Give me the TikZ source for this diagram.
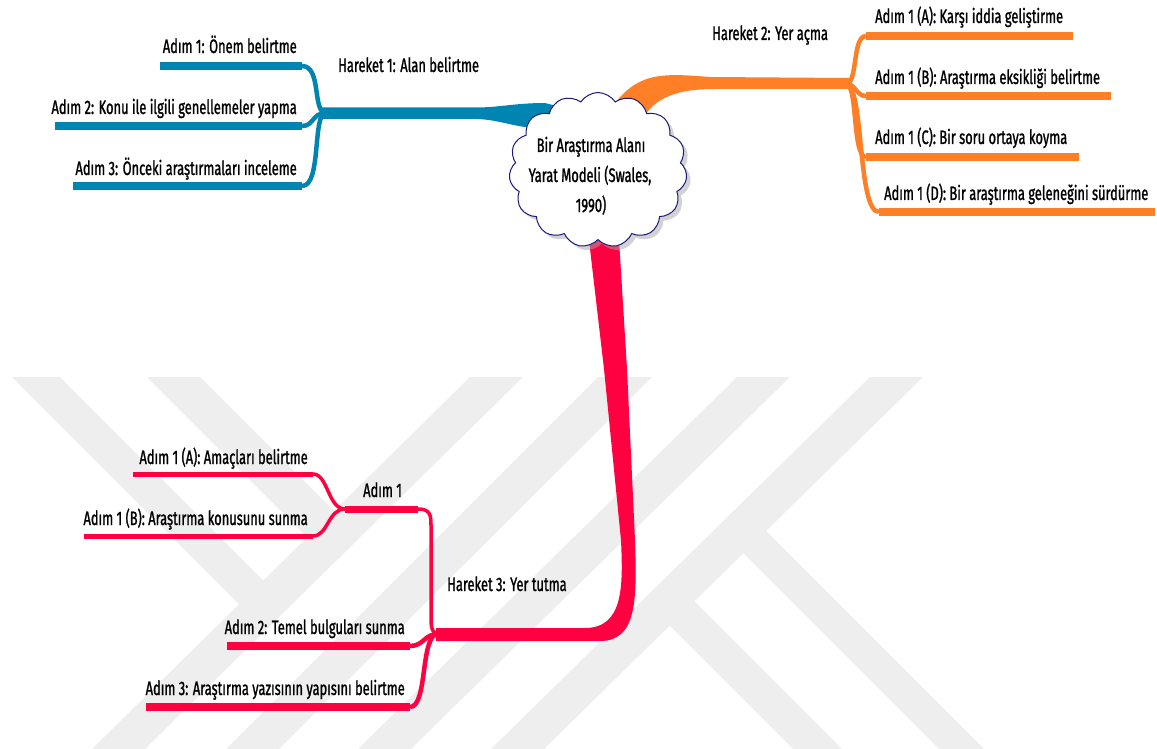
\documentclass[tikz,border=0pt]{standalone}
\usepackage{fontspec}
\setmainfont{Fira Sans}[FakeStretch=0.66, FakeBold=1.2]
\usetikzlibrary{shapes.symbols,shadows}
\definecolor{brBlue}{RGB}{0,133,178}
\definecolor{brOrange}{RGB}{255,127,39}
\definecolor{brRed}{RGB}{255,0,64}
\definecolor{wmGray}{RGB}{238,238,238}
\definecolor{cloudEdge}{RGB}{25,25,120}
\newcommand\lblfont{\fontsize{19.5}{23}\selectfont}
\begin{document}
\begin{tikzpicture}[x=1pt,y=-1pt,
  lbl/.style={font=\lblfont, inner sep=0pt, text=black},
  twig/.style={line width=8pt},
  twigfine/.style={line width=5pt},
  curvy/.style={line width=4.5pt},
  stemline/.style={line width=3.5pt}]
\useasboundingbox (0,0) rectangle (1157,749);

% ---------- background emblem ----------
\begin{scope}
  \clip (0,377) rectangle (1157,749);
  \fill[wmGray] (470,377) -- (523,377) -- (145,749) -- (92,749) -- cycle;
  \fill[wmGray] (12,377) -- (60,377) -- (289,606) -- (265,630) -- cycle;
  \fill[wmGray] (147,377) -- (200,377) -- (360,537) -- (333,563) -- cycle;
  \fill[wmGray] (598,377) -- (652,377) -- (279,749) -- (226,749) -- cycle;
  \fill[wmGray] (737,377) -- (790,377) -- (411,749) -- (358,749) -- cycle;
  \fill[wmGray] (870,377) -- (923,377) -- (544,749) -- (491,749) -- cycle;
  \fill[wmGray] (750,515) -- (984,749) -- (939,749) -- (725,535) -- cycle;
  \fill[wmGray] (680,587) -- (842,749) -- (793,749) -- (655,611) -- cycle;
\end{scope}

% ---------- Hareket 1 (blue) ----------
\coordinate (bJ) at (326,113);
\coordinate (b1o) at (160,66);  \coordinate (b1i) at (302,66);
\coordinate (b2o) at (55,126);  \coordinate (b2i) at (302,126);
\coordinate (b3o) at (73,186);  \coordinate (b3i) at (302,186);
\fill[brBlue] (322,107.5) -- (475,107.5) .. controls (500,107.5) and (515,103) .. (545,103)
  -- (580,112) -- (580,131) -- (545,129) .. controls (515,128) and (498,119) .. (475,119)
  -- (322,119) -- cycle;
\draw[brBlue, twig] (b1o) -- (b1i);
\draw[brBlue, twig] (b2o) -- (b2i);
\draw[brBlue, twig] (b3o) -- (b3i);
\draw[brBlue, curvy] (b1i) .. controls +(20,0) and +(-14,0) .. (bJ);
\draw[brBlue, curvy] (b2i) .. controls +(12,0) and +(-14,0) .. (bJ);
\draw[brBlue, curvy] (b3i) .. controls +(20,0) and +(-14,0) .. (bJ);

% ---------- Hareket 2 (orange) ----------
\coordinate (oJ) at (846,84);
\coordinate (o1i) at (866,36);  \coordinate (o1o) at (1073,36);
\coordinate (o2i) at (866,96);  \coordinate (o2o) at (1111,96);
\coordinate (o3i) at (866,157); \coordinate (o3o) at (1079,157);
\coordinate (o4i) at (879,212); \coordinate (o4o) at (1155,212);
\fill[brOrange] (850,78) -- (710,77) .. controls (660,73) and (636,72) .. (610,110)
  -- (642,120) .. controls (655,96) and (680,89) .. (715,89) -- (850,89) -- cycle;
\draw[brOrange, twig] (o1i) -- (o1o);
\draw[brOrange, twig] (o2i) -- (o2o);
\draw[brOrange, twig] (o3i) -- (o3o);
\draw[brOrange, twig] (o4i) -- (o4o);
\draw[brOrange, curvy] (oJ) .. controls +(12,0) and +(-14,0) .. (o1i);
\draw[brOrange, curvy] (oJ) .. controls +(10,0) and +(-10,0) .. (o2i);
\draw[brOrange, curvy] (oJ) .. controls +(12,0) and +(-14,0) .. (o3i);
\draw[brOrange, curvy] (oJ) .. controls +(18,0) and +(-22,0) .. (o4i);

% ---------- Hareket 3 (red) ----------
\coordinate (rJ) at (438,634);
\coordinate (r1J) at (345,509);  \coordinate (r1e) at (418,509);
\coordinate (rAo) at (133,474);  \coordinate (rAi) at (313,474);
\coordinate (rBo) at (84,536);   \coordinate (rBi) at (313,536);
\coordinate (r2o) at (227,646);  \coordinate (r2i) at (410,646);
\coordinate (r3o) at (146,707);  \coordinate (r3i) at (410,707);
\fill[brRed] (589,240) -- (604,369) -- (621,540) .. controls (623,585) and (624,628) .. (585,628)
  -- (436,628) -- (436,641) -- (600,641) .. controls (637,641) and (637,600) .. (635,540)
  -- (627,369) -- (619,240) -- cycle;
\draw[brRed, line width=7pt] (r1J) -- (r1e);
\draw[brRed, stemline] (r1e) .. controls +(12,0) and +(0,-10) .. (431,525)
  -- (431,620) .. controls +(0,10) and +(-4,0) .. (rJ);
\draw[brRed, twigfine] (rAo) -- (rAi);
\draw[brRed, twigfine] (rBo) -- (rBi);
\draw[brRed, stemline] (rAi) .. controls +(15,0) and +(-17,0) .. (r1J);
\draw[brRed, stemline] (rBi) .. controls +(15,0) and +(-17,0) .. (r1J);
\draw[brRed, twig] (r2o) -- (r2i);
\draw[brRed, twig] (r3o) -- (r3i);
\draw[brRed, curvy] (r2i) .. controls +(14,0) and +(-14,0) .. (rJ);
\draw[brRed, curvy] (r3i) .. controls +(18,0) and +(-18,0) .. (rJ);

% ---------- central topic ----------
\node[cloud, cloud puffs=15, cloud puff arc=115, cloud ignores aspect,
      minimum width=178pt, minimum height=155pt, draw=cloudEdge, line width=1pt,
      fill=white, drop shadow={shadow xshift=4pt, shadow yshift=-4pt, fill=black!35}]
      (core) at (598,170) {};
\node[lbl, anchor=base] (c1) at (591,152) {Bir Araştırma Alanı};
\node[lbl, anchor=base] (c2) at (590,182) {Yarat Modeli (Swales,};
\node[lbl, anchor=base] (c3) at (591,212) {1990)};

% ---------- labels ----------
\node[lbl, anchor=base east] (tb1) at (297,53) {Adım 1: Önem belirtme};
\node[lbl, anchor=base east] (tb2) at (297,114) {Adım 2: Konu ile ilgili genellemeler yapma};
\node[lbl, anchor=base east] (tb3) at (297,175) {Adım 3: Önceki araştırmaları inceleme};
\node[lbl, anchor=base west] (tbH) at (338,72) {Hareket 1: Alan belirtme};

\node[lbl, anchor=base west] (toH) at (712,40) {Hareket 2: Yer açma};
\node[lbl, anchor=base west] (to1) at (875,23) {Adım 1 (A): Karşı iddia geliştirme};
\node[lbl, anchor=base west] (to2) at (875,84) {Adım 1 (B): Araştırma eksikliği belirtme};
\node[lbl, anchor=base west] (to3) at (875,144) {Adım 1 (C): Bir soru ortaya koyma};
\node[lbl, anchor=base west] (to4) at (884,200) {Adım 1 (D): Bir araştırma geleneğini sürdürme};

\node[lbl, anchor=base east] (trA) at (308,464) {Adım 1 (A): Amaçları belirtme};
\node[lbl, anchor=base west] (tr1) at (363,497) {Adım 1};
\node[lbl, anchor=base east] (trB) at (308,525) {Adım 1 (B): Araştırma konusunu sunma};
\node[lbl, anchor=base east] (tr2) at (405,634) {Adım 2: Temel bulguları sunma};
\node[lbl, anchor=base east] (tr3) at (405,695) {Adım 3: Araştırma yazısının yapısını belirtme};
\node[lbl, anchor=base west] (trH) at (447,591) {Hareket 3: Yer tutma};
\end{tikzpicture}
\end{document}
